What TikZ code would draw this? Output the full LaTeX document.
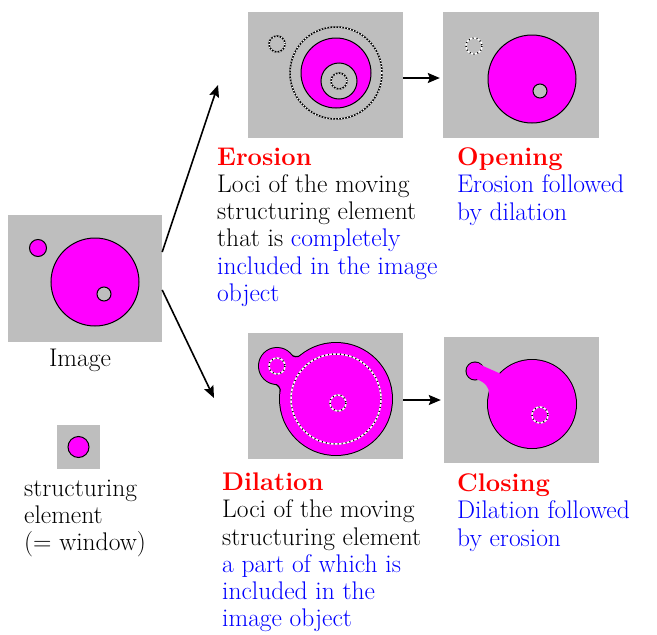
\documentclass[tikz,border=0pt]{standalone}
\usetikzlibrary{arrows.meta, positioning, calc}
\definecolor{panelgray}{RGB}{190,190,190}
\definecolor{objmag}{RGB}{255,0,255}
\newcommand{\opname}[1]{{\bfseries\color{red}#1}}
\newcommand{\keytext}[1]{{\color{blue}#1}}

\begin{document}
\begin{tikzpicture}[x=1pt, y=-1pt, >={Stealth[length=12pt, width=10pt, inset=2pt]},
  font=\fontsize{25.5}{27.3}\selectfont,
  panel/.style={fill=panelgray, inner sep=0pt, minimum width=155pt, minimum height=126pt},
  txt/.style={anchor=north west, align=left, inner sep=0pt},
  obj/.style={fill=objmag, draw=black, line width=1pt},
  hole/.style={fill=panelgray, draw=black, line width=1pt},
  ringdark/.style={draw=black, line width=1.5pt, postaction={draw=white, line width=1.5pt, dash pattern=on 1pt off 2pt}},
  ringlight/.style={draw=white, line width=1.5pt, postaction={draw=black, line width=1.5pt, dash pattern=on 1pt off 3pt}},
  arr/.style={->, line width=1.6pt}]
  \useasboundingbox (0,0) rectangle (657,635);

  % Image and structuring element
  \node[panel, minimum width=154pt, minimum height=127pt] (img) at (85,278.5) {};
  \filldraw[obj] (38,248) circle[radius=8.5];
  \filldraw[obj] (95,282) circle[radius=44];
  \filldraw[hole] (104,294) circle[radius=7];
  \node[anchor=base] (imglbl) at (80,366) {Image};

  \node[panel, minimum width=43pt, minimum height=44pt] (se) at (78.5,447) {};
  \filldraw[obj] (se.center) circle[radius=10.5];
  \node[txt] (setxt) at (24,479.5) {structuring\\element\\(= window)};

  % Erosion
  \node[panel] (ero) at (325.5,75) {};
  \draw[ringdark] (277,44) circle[radius=8];
  \draw[ringdark] (336,73) circle[radius=46];
  \filldraw[obj] (336,73) circle[radius=35];
  \filldraw[hole] (339,81) circle[radius=18];
  \draw[ringdark] (339,81) circle[radius=8];
  \node[txt] (erotxt) at (217,147.5) {\opname{Erosion}\\Loci of the moving\\structuring element\\that is \keytext{completely}\\\keytext{included in the image}\\\keytext{object}};

  % Opening
  \node[panel, minimum width=156pt] (opn) at (521,75) {};
  \draw[ringlight] (474,46) circle[radius=8];
  \filldraw[obj] (532,79) circle[radius=44];
  \filldraw[hole] (540,91) circle[radius=7];
  \node[txt] (opntxt) at (457,147.5) {\opname{Opening}\\\keytext{Erosion followed}\\\keytext{by dilation}};

  % Dilation
  \node[panel] (dil) at (325.5,396) {};
  \draw[line width=2pt] (277,366) circle[radius=18] (336,399) circle[radius=56];
  \fill[objmag] (277,366) -- (290.4,354) arc[start angle=138.5, end angle=51.8, radius=8]
    -- (336,399) -- (280.4,392.5) arc[start angle=6.4, end angle=-80, radius=8] -- cycle;
  \draw[line width=1.2pt] (290.4,354) arc[start angle=138.5, end angle=51.8, radius=8];
  \draw[line width=1.2pt] (280.4,392.5) arc[start angle=6.4, end angle=-80, radius=8];
  \fill[objmag] (277,366) circle[radius=18] (336,399) circle[radius=56];
  \draw[ringlight] (336,399) circle[radius=45];
  \draw[ringlight] (277,366) circle[radius=8];
  \draw[ringlight] (338,403) circle[radius=8];
  \node[txt] (diltxt) at (222,472.5) {\opname{Dilation}\\Loci of the moving\\structuring element\\\keytext{a part of which is}\\\keytext{included in the}\\\keytext{image object}};

  % Closing
  \node[panel] (clo) at (521.5,400) {};
  \draw[line width=2pt] (475,371) circle[radius=8.5] (532,404) circle[radius=44];
  \fill[objmag] (477,362.8) -- (483,366) -- (500,373.5) -- (515,385) -- (489,395)
    .. controls (490,388) and (485,382) .. (477,379.5) -- cycle;
  \fill[objmag] (475,371) circle[radius=8.5] (532,404) circle[radius=44];
  \draw[ringlight] (540,415) circle[radius=8];
  \node[txt] (clotxt) at (457,473.5) {\opname{Closing}\\\keytext{Dilation followed}\\\keytext{by erosion}};

  % Arrows
  \coordinate (eroin) at (218,85);
  \coordinate (dilin) at (214,398);
  \draw[arr] ([yshift=26.5pt]img.east) -- (eroin);
  \draw[arr] ([yshift=-11.5pt]img.east) -- (dilin);
  \draw[arr, shorten >=3pt] ([yshift=-3pt]ero.east) -- ([yshift=-3pt]opn.west);
  \draw[arr, shorten >=3pt] ([yshift=-4pt]dil.east) -- ([yshift=-4pt]dil.east -| clo.west);
\end{tikzpicture}
\end{document}
